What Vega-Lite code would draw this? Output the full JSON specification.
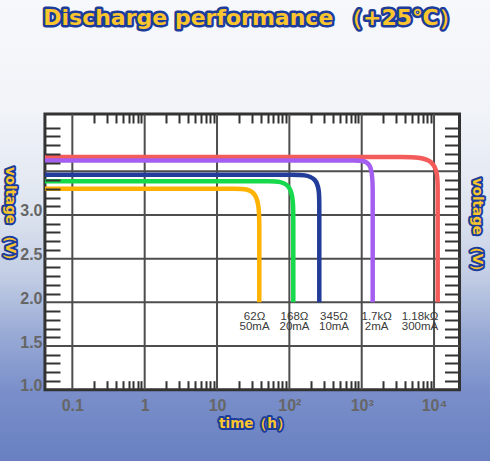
{
  "$schema": "https://vega.github.io/schema/vega-lite/v6.json",
  "width": 490,
  "height": 461,
  "autosize": {"type": "none"},
  "padding": 0,
  "background": "#f5f7fb",
  "view": {
    "stroke": null,
    "fill": {
      "gradient": "linear", "x1": 0, "y1": 0, "x2": 0, "y2": 1,
      "stops": [
        {"offset": 0, "color": "#f7f8fb"},
        {"offset": 0.25, "color": "#f0f3f8"},
        {"offset": 0.45, "color": "#dfe5f0"},
        {"offset": 0.6, "color": "#c2cde4"},
        {"offset": 0.72, "color": "#9aabd6"},
        {"offset": 0.85, "color": "#7a8fca"},
        {"offset": 1, "color": "#6880c1"}
      ]
    }
  },
  "resolve": {"axis": {"x": "independent", "y": "independent"}},
  "layer": [
    {
      "data": {"values": [{}]},
      "mark": {"type": "rect", "fill": "white", "stroke": "#333333", "strokeWidth": 3},
      "encoding": {
        "x": {"datum": 0.0418, "type": "quantitative",
          "scale": {"type": "log", "domain": [0.01, 59350], "nice": false},
          "axis": {"orient": "bottom", "offset": -71.3, "values": [0.1, 1, 10, 100, 1000, 10000],
            "labelExpr": "datum.value < 0.5 ? '0.1' : datum.value < 5 ? '1' : datum.value < 50 ? '10' : datum.value < 500 ? '10²' : datum.value < 5000 ? '10³' : '10⁴'",
            "ticks": false, "domain": false, "grid": false, "title": null, "labelFlush": false,
            "labelFont": "Liberation Sans", "labelFontWeight": "bold", "labelFontSize": 16,
            "labelColor": "#666666", "labelPadding": 7.7, "zindex": 1}},
        "x2": {"datum": 22490},
        "y": {"datum": 1.0, "type": "quantitative",
          "scale": {"type": "linear", "domain": [0.1838, 5.4609], "nice": false, "zero": false},
          "axis": {"orient": "left", "offset": -45, "values": [1, 1.5, 2, 2.5, 3], "format": ".1f",
            "ticks": false, "domain": false, "grid": false, "title": null, "labelFlush": false,
            "labelFont": "Liberation Sans", "labelFontWeight": "bold", "labelFontSize": 16,
            "labelColor": "#666666", "labelPadding": 3, "labelOffset": -4, "zindex": 1}},
        "y2": {"datum": 4.156}
      }
    },
    {
      "data": {"values": [{"g": 0.1}, {"g": 1}, {"g": 10}, {"g": 100}, {"g": 1000}, {"g": 10000}]},
      "mark": {"type": "rule", "color": "#4d4d4d", "strokeWidth": 2},
      "encoding": {
        "x": {"field": "g", "type": "quantitative",
          "scale": {"type": "log", "domain": [0.01, 59350], "nice": false},
          "axis": {"orient": "top", "offset": -389.7,
            "values": [0.2,0.3,0.4,0.5,0.6,0.7,0.8,0.9,2,3,4,5,6,7,8,9,20,30,40,50,60,70,80,90,200,300,400,500,600,700,800,900,2000,3000,4000,5000,6000,7000,8000,9000],
            "labels": false, "domain": false, "grid": false, "title": null,
            "tickSize": 9, "tickWidth": 2, "tickColor": "#333333", "zindex": 1}},
        "y": {"datum": 1.0, "type": "quantitative",
          "scale": {"type": "linear", "domain": [0.1838, 5.4609], "nice": false, "zero": false},
          "axis": {"orient": "right", "offset": -445,
            "values": [1.1,1.2,1.3,1.4,1.6,1.7,1.8,1.9,2.1,2.2,2.3,2.4,2.6,2.7,2.8,2.9,3.1,3.2,3.3,3.4,3.6,3.7,3.8,3.9,4.0],
            "labels": false, "domain": false, "grid": false, "title": null,
            "tickSize": 15, "tickWidth": 2, "tickColor": "#333333", "zindex": 1}},
        "y2": {"datum": 4.156}
      }
    },
    {
      "data": {"values": [{"h": 1.5}, {"h": 2}, {"h": 2.5}, {"h": 3}, {"h": 3.5}]},
      "mark": {"type": "rule", "color": "#4d4d4d", "strokeWidth": 2},
      "encoding": {
        "y": {"field": "h", "type": "quantitative",
          "scale": {"type": "linear", "domain": [0.1838, 5.4609], "nice": false, "zero": false},
          "axis": {"orient": "left", "offset": -459.5,
            "values": [1.1,1.2,1.3,1.4,1.6,1.7,1.8,1.9,2.1,2.2,2.3,2.4,2.6,2.7,2.8,2.9,3.1,3.2,3.3,3.4,3.6,3.7,3.8,3.9,4.0],
            "labels": false, "domain": false, "grid": false, "title": null,
            "tickSize": 15, "tickWidth": 2, "tickColor": "#333333", "zindex": 1}},
        "x": {"datum": 0.0418, "type": "quantitative",
          "scale": {"type": "log", "domain": [0.01, 59350], "nice": false},
          "axis": {"orient": "bottom", "offset": -347,
            "values": [0.2,0.3,0.4,0.5,0.6,0.7,0.8,0.9,2,3,4,5,6,7,8,9,20,30,40,50,60,70,80,90,200,300,400,500,600,700,800,900,2000,3000,4000,5000,6000,7000,8000,9000],
            "labels": false, "domain": false, "grid": false, "title": null,
            "tickSize": 9, "tickWidth": 2, "tickColor": "#333333", "zindex": 1}},
        "x2": {"datum": 22490}
      }
    },
    {
      "data": {"values": [
        {"s": "62Ω", "o": 0, "t": 0.0418, "v": 3.301},
        {"s": "62Ω", "o": 1, "t": 7.82, "v": 3.301},
        {"s": "62Ω", "o": 2, "t": 17.33, "v": 3.301},
        {"s": "62Ω", "o": 3, "t": 38.4, "v": 3.301},
        {"s": "62Ω", "o": 4, "t": 38.4, "v": 2.832},
        {"s": "62Ω", "o": 5, "t": 38.4, "v": 2.362},
        {"s": "62Ω", "o": 6, "t": 38.4, "v": 2.0},
        {"s": "168Ω", "o": 0, "t": 0.0418, "v": 3.386},
        {"s": "168Ω", "o": 1, "t": 23.1, "v": 3.386},
        {"s": "168Ω", "o": 2, "t": 51.2, "v": 3.386},
        {"s": "168Ω", "o": 3, "t": 113.3, "v": 3.386},
        {"s": "168Ω", "o": 4, "t": 113.3, "v": 2.94},
        {"s": "168Ω", "o": 5, "t": 113.3, "v": 2.493},
        {"s": "168Ω", "o": 6, "t": 113.3, "v": 2.0},
        {"s": "345Ω", "o": 0, "t": 0.0418, "v": 3.461},
        {"s": "345Ω", "o": 1, "t": 43.6, "v": 3.461},
        {"s": "345Ω", "o": 2, "t": 106.3, "v": 3.461},
        {"s": "345Ω", "o": 3, "t": 259.2, "v": 3.461},
        {"s": "345Ω", "o": 4, "t": 259.2, "v": 3.106},
        {"s": "345Ω", "o": 5, "t": 259.2, "v": 2.751},
        {"s": "345Ω", "o": 6, "t": 259.2, "v": 2.0},
        {"s": "1.18kΩ", "o": 0, "t": 0.0418, "v": 3.663},
        {"s": "1.18kΩ", "o": 1, "t": 1065, "v": 3.663},
        {"s": "1.18kΩ", "o": 2, "t": 3459, "v": 3.663},
        {"s": "1.18kΩ", "o": 3, "t": 11230, "v": 3.663},
        {"s": "1.18kΩ", "o": 4, "t": 11230, "v": 3.274},
        {"s": "1.18kΩ", "o": 5, "t": 11230, "v": 2.885},
        {"s": "1.18kΩ", "o": 6, "t": 11230, "v": 2.0},
        {"s": "1.7kΩ", "o": 0, "t": 0.0418, "v": 3.625},
        {"s": "1.7kΩ", "o": 1, "t": 423, "v": 3.625},
        {"s": "1.7kΩ", "o": 2, "t": 775, "v": 3.625},
        {"s": "1.7kΩ", "o": 3, "t": 1419, "v": 3.625},
        {"s": "1.7kΩ", "o": 4, "t": 1419, "v": 3.259},
        {"s": "1.7kΩ", "o": 5, "t": 1419, "v": 2.892},
        {"s": "1.7kΩ", "o": 6, "t": 1419, "v": 2.0}
      ]},
      "mark": {"type": "line", "interpolate": "basis", "strokeWidth": 4.5, "strokeCap": "butt"},
      "encoding": {
        "x": {"field": "t", "type": "quantitative", "scale": {"type": "log", "domain": [0.01, 59350], "nice": false}, "axis": null},
        "y": {"field": "v", "type": "quantitative", "scale": {"type": "linear", "domain": [0.1838, 5.4609], "nice": false, "zero": false}, "axis": null},
        "color": {"field": "s", "type": "nominal", "legend": null,
          "scale": {"domain": ["62Ω", "168Ω", "345Ω", "1.18kΩ", "1.7kΩ"], "range": ["#ffb300", "#16d94c", "#223c9a", "#f45b5b", "#a55ff0"]}},
        "order": {"field": "o", "type": "quantitative"}
      }
    },
    {
      "data": {"values": [
        {"t": 33.0, "lab": "62Ω\n50mA"},
        {"t": 117.8, "lab": "168Ω\n20mA"},
        {"t": 414, "lab": "345Ω\n10mA"},
        {"t": 1611, "lab": "1.7kΩ\n2mA"},
        {"t": 6398, "lab": "1.18kΩ\n300mA"}
      ]},
      "mark": {"type": "text", "font": "Liberation Sans", "fontSize": 11.5, "fill": "#3a3a3a", "align": "center", "baseline": "top", "lineBreak": "\n", "lineHeight": 10.5},
      "encoding": {
        "x": {"field": "t", "type": "quantitative", "scale": {"type": "log", "domain": [0.01, 59350], "nice": false}, "axis": null},
        "y": {"datum": 1.903, "type": "quantitative", "scale": {"type": "linear", "domain": [0.1838, 5.4609], "nice": false, "zero": false}, "axis": null},
        "text": {"field": "lab", "type": "nominal"}
      }
    },
    {
      "data": {"values": [{}]},
      "mark": {"type": "text", "text": "Discharge performance （+25℃）", "font": "DejaVu Sans", "fontWeight": "bold", "fontSize": 22, "align": "center", "baseline": "alphabetic", "fill": "#1c3c9c", "stroke": "#1c3c9c", "strokeWidth": 5, "strokeJoin": "round"},
      "encoding": {
        "x": {"datum": 30.4, "type": "quantitative", "scale": {"type": "log", "domain": [0.01, 59350], "nice": false}, "axis": null},
        "y": {"datum": 5.17, "type": "quantitative", "scale": {"type": "linear", "domain": [0.1838, 5.4609], "nice": false, "zero": false}, "axis": null}
      }
    },
    {
      "data": {"values": [{}]},
      "mark": {"type": "text", "text": "Discharge performance （+25℃）", "font": "DejaVu Sans", "fontWeight": "bold", "fontSize": 22, "align": "center", "baseline": "alphabetic", "fill": "#fbc52d"},
      "encoding": {
        "x": {"datum": 30.4, "type": "quantitative", "scale": {"type": "log", "domain": [0.01, 59350], "nice": false}, "axis": null},
        "y": {"datum": 5.17, "type": "quantitative", "scale": {"type": "linear", "domain": [0.1838, 5.4609], "nice": false, "zero": false}, "axis": null}
      }
    },
    {
      "data": {"values": [{}]},
      "mark": {"type": "text", "text": "voltage （V）", "font": "DejaVu Sans", "fontWeight": "bold", "fontSize": 13.5, "angle": 90, "align": "center", "baseline": "middle", "fill": "#1c3c9c", "stroke": "#1c3c9c", "strokeWidth": 4, "strokeJoin": "round"},
      "encoding": {
        "x": {"datum": 0.01374, "type": "quantitative", "scale": {"type": "log", "domain": [0.01, 59350], "nice": false}, "axis": null},
        "y": {"datum": 2.977, "type": "quantitative", "scale": {"type": "linear", "domain": [0.1838, 5.4609], "nice": false, "zero": false}, "axis": null}
      }
    },
    {
      "data": {"values": [{}]},
      "mark": {"type": "text", "text": "voltage （V）", "font": "DejaVu Sans", "fontWeight": "bold", "fontSize": 13.5, "angle": 90, "align": "center", "baseline": "middle", "fill": "#fbc52d"},
      "encoding": {
        "x": {"datum": 0.01374, "type": "quantitative", "scale": {"type": "log", "domain": [0.01, 59350], "nice": false}, "axis": null},
        "y": {"datum": 2.977, "type": "quantitative", "scale": {"type": "linear", "domain": [0.1838, 5.4609], "nice": false, "zero": false}, "axis": null}
      }
    },
    {
      "data": {"values": [{}]},
      "mark": {"type": "text", "text": "voltage （V）", "font": "DejaVu Sans", "fontWeight": "bold", "fontSize": 13.5, "angle": 90, "align": "center", "baseline": "middle", "fill": "#1c3c9c", "stroke": "#1c3c9c", "strokeWidth": 4, "strokeJoin": "round"},
      "encoding": {
        "x": {"datum": 39260, "type": "quantitative", "scale": {"type": "log", "domain": [0.01, 59350], "nice": false}, "axis": null},
        "y": {"datum": 2.851, "type": "quantitative", "scale": {"type": "linear", "domain": [0.1838, 5.4609], "nice": false, "zero": false}, "axis": null}
      }
    },
    {
      "data": {"values": [{}]},
      "mark": {"type": "text", "text": "voltage （V）", "font": "DejaVu Sans", "fontWeight": "bold", "fontSize": 13.5, "angle": 90, "align": "center", "baseline": "middle", "fill": "#fbc52d"},
      "encoding": {
        "x": {"datum": 39260, "type": "quantitative", "scale": {"type": "log", "domain": [0.01, 59350], "nice": false}, "axis": null},
        "y": {"datum": 2.851, "type": "quantitative", "scale": {"type": "linear", "domain": [0.1838, 5.4609], "nice": false, "zero": false}, "axis": null}
      }
    },
    {
      "data": {"values": [{}]},
      "mark": {"type": "text", "text": "time（h）", "font": "DejaVu Sans", "fontWeight": "bold", "fontSize": 13.5, "align": "center", "baseline": "alphabetic", "fill": "#1c3c9c", "stroke": "#1c3c9c", "strokeWidth": 4, "strokeJoin": "round"},
      "encoding": {
        "x": {"datum": 33.5, "type": "quantitative", "scale": {"type": "log", "domain": [0.01, 59350], "nice": false}, "axis": null},
        "y": {"datum": 0.5616, "type": "quantitative", "scale": {"type": "linear", "domain": [0.1838, 5.4609], "nice": false, "zero": false}, "axis": null}
      }
    },
    {
      "data": {"values": [{}]},
      "mark": {"type": "text", "text": "time（h）", "font": "DejaVu Sans", "fontWeight": "bold", "fontSize": 13.5, "align": "center", "baseline": "alphabetic", "fill": "#fbc52d"},
      "encoding": {
        "x": {"datum": 33.5, "type": "quantitative", "scale": {"type": "log", "domain": [0.01, 59350], "nice": false}, "axis": null},
        "y": {"datum": 0.5616, "type": "quantitative", "scale": {"type": "linear", "domain": [0.1838, 5.4609], "nice": false, "zero": false}, "axis": null}
      }
    }
  ]
}
